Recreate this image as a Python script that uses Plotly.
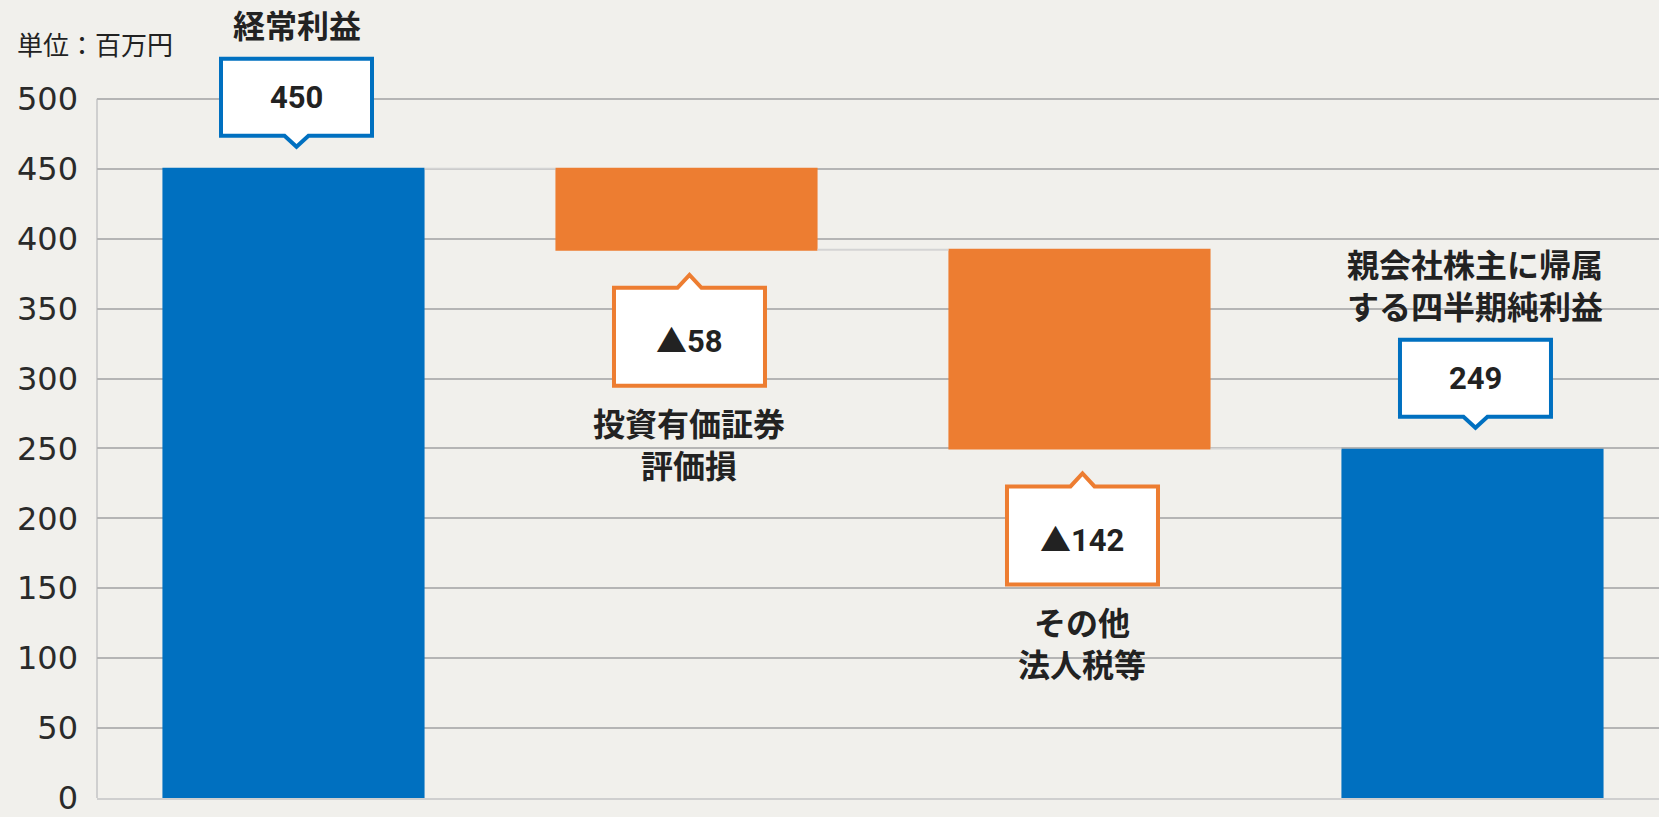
import plotly.graph_objects as go

# ---- data ----
labels = ["経常利益", "投資有価証券<br>評価損", "その他<br>法人税等", "親会社株主に帰属<br>する四半期純利益"]
values = [450, -58, -142, 249]
measures = ["absolute", "relative", "relative", "absolute"]
y_ticks = [0, 50, 100, 150, 200, 250, 300, 350, 400, 450, 500]
unit_label = "単位：百万円"

BLUE = "#0070c0"
ORANGE = "#ed7d31"
BG = "#f1f0ec"
TXT = "#222222"
GRID = "#b5b5b5"

JP = "Noto Sans CJK JP"

x = list(range(len(values)))

fig = go.Figure()
fig.add_trace(go.Waterfall(
    x=x, y=values, measure=measures,
    width=0.667,
    increasing=dict(marker=dict(color=BLUE)),
    decreasing=dict(marker=dict(color=ORANGE)),
    totals=dict(marker=dict(color=BLUE)),
    connector=dict(line=dict(color="#d4d4d4", width=2)),
    textposition="none",
    hoverinfo="skip",
))

# compute bar extents
level = 0
bars = []
for v, m in zip(values, measures):
    if m == "absolute":
        start, end = 0, v
        level = v
    else:
        start, end = level, level + v
        level = level + v
    bars.append((min(start, end), max(start, end), m == "absolute"))

shapes = []
annotations = []
hw = 75.5
dx = 3
for i, ((lo, hi, is_abs), lab, v) in enumerate(zip(bars, labels, values)):
    nlines = lab.count("<br>") + 1
    if is_abs:
        color = BLUE
        anchor_y = hi
        path = (f"M {-hw+dx},33 L {dx-12},33 L {dx},22 L {dx+12},33 L {hw+dx},33 "
                f"L {hw+dx},110 L {-hw+dx},110 Z")
        text_shift = 71.5
        label_shift = 145 + (nlines - 1) * 20.5
        vtxt = f"{v}"
    else:
        color = ORANGE
        anchor_y = lo
        path = (f"M {-hw+dx},-38 L {dx-12},-38 L {dx},-25 L {dx+12},-38 L {hw+dx},-38 "
                f"L {hw+dx},-136 L {-hw+dx},-136 Z")
        text_shift = -89
        label_shift = -(173 + (nlines - 1) * 20.5)
        vtxt = f"<span style='font-family:{JP}'>▲</span>{abs(v)}"
    shapes.append(dict(
        type="path", xref="x", yref="y", xsizemode="pixel", ysizemode="pixel",
        xanchor=i, yanchor=anchor_y, path=path,
        fillcolor="white", line=dict(color=color, width=4), layer="above",
    ))
    annotations.append(dict(
        x=i, y=anchor_y, xref="x", yref="y", text=vtxt, showarrow=False,
        xanchor="center", yanchor="middle", xshift=dx, yshift=text_shift,
        font=dict(family="Roboto", size=31, color=TXT, weight="bold"),
    ))
    annotations.append(dict(
        x=i, y=anchor_y, xref="x", yref="y", text=lab, showarrow=False,
        xanchor="center", yanchor="middle", xshift=dx, yshift=label_shift,
        font=dict(family=JP, size=32, color=TXT, weight="bold"),
    ))

annotations.append(dict(
    x=0, y=1, xref="paper", yref="paper", xshift=-82, yshift=-43,
    text=unit_label, showarrow=False,
    xanchor="left", yanchor="middle",
    font=dict(family=JP, size=26, color=TXT),
))

# left axis line from 0 to top tick
shapes.append(dict(type="line", xref="paper", yref="y", x0=0, x1=0,
                   y0=y_ticks[0], y1=y_ticks[-1],
                   line=dict(color="#cfcfcf", width=2), layer="below"))

fig.update_layout(
    width=1659, height=817,
    margin=dict(l=97, r=0, t=0, b=14),
    paper_bgcolor=BG, plot_bgcolor=BG,
    showlegend=False,
    shapes=shapes, annotations=annotations,
    xaxis=dict(range=[-0.5, 3.4746], showticklabels=False, showgrid=False,
               zeroline=False, showline=True, linecolor="#cfcfcf", linewidth=2,
               fixedrange=True),
    yaxis=dict(range=[0, 570.7], tickvals=y_ticks, showgrid=True, gridcolor=GRID,
               gridwidth=2, zeroline=False, showline=False,
               ticklabelstandoff=18, ticklabeloverflow="allow",
               tickfont=dict(family="DejaVu Sans", size=32, color="#2a2a2a"),
               fixedrange=True),
)

fig.write_html(
    "out.html",
    config={"displayModeBar": False},
    post_script=(
        "document.documentElement.style.margin='0';"
        "document.documentElement.style.background='%s';"
        "document.body.style.margin='0';"
        "document.body.style.overflow='hidden';"
        "document.body.style.background='%s';" % (BG, BG)
    ),
)
